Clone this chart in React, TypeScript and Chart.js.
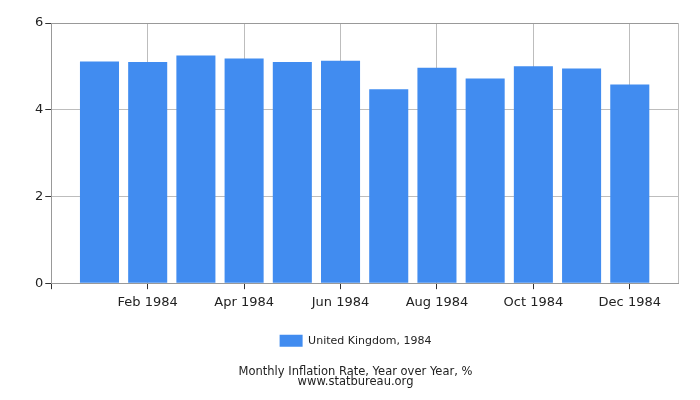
import { useEffect, useRef } from "react";
import { Chart, registerables } from "chart.js";

Chart.register(...registerables);

const months = [
  "Jan 1984", "Feb 1984", "Mar 1984", "Apr 1984", "May 1984", "Jun 1984",
  "Jul 1984", "Aug 1984", "Sep 1984", "Oct 1984", "Nov 1984", "Dec 1984",
];
const ukValues = [5.11, 5.1, 5.25, 5.18, 5.1, 5.13, 4.47, 4.97, 4.72, 5.0, 4.95, 4.58];
const yTicks = [0, 2, 4, 6];
const seriesLabel = "United Kingdom, 1984";
const titleLines = ["Monthly Inflation Rate, Year over Year, %", "www.statbureau.org"];

export default function App() {
  const canvasRef = useRef<HTMLCanvasElement | null>(null);
  const chartRef = useRef<Chart | null>(null);

  useEffect(() => {
    if (!canvasRef.current) {
      return;
    }
    document.body.style.margin = "0";

    if (chartRef.current) {
      chartRef.current.destroy();
    }

    // pad one empty slot each side, like the original's axis
    const labels = ["", ...months, ""];
    const data = [null, ...ukValues, null];
    const last = labels.length - 1;
    const font = "'DejaVu Sans', Verdana, sans-serif";

    chartRef.current = new Chart(canvasRef.current, {
      type: "bar",
      data: {
        labels,
        datasets: [
          {
            label: seriesLabel,
            data,
            backgroundColor: "#418cf0",
            borderWidth: 0,
            categoryPercentage: 1,
            barPercentage: 0.81,
          },
        ],
      },
      options: {
        animation: false,
        responsive: true,
        maintainAspectRatio: false,
        layout: { padding: { top: 23, right: 22, left: 33, bottom: 4 } },
        plugins: {
          legend: {
            position: "bottom",
            labels: {
              boxWidth: 23,
              boxHeight: 12,
              color: "#222",
              font: { family: font, size: 11 },
              padding: 20,
            },
          },
          title: {
            display: true,
            position: "bottom",
            text: titleLines,
            color: "#222",
            font: { family: font, size: 11.5, weight: "normal", lineHeight: 0.88 },
            padding: { top: 10, bottom: 9 },
          },
          tooltip: { enabled: false },
        },
        scales: {
          x: {
            offset: false,
            afterFit: (axis) => {
              axis.height -= 2;
            },
            grid: {
              offset: false,
              color: "#bdbdbd",
              tickColor: (ctx) =>
                ctx.tick && ctx.tick.value === last ? "rgba(0,0,0,0)" : "#333",
              tickLength: 6,
            },
            border: { color: "#999" },
            ticks: {
              autoSkip: false,
              maxRotation: 0,
              color: "#222",
              font: { family: font, size: 13 },
              padding: 6,
              callback: (_v, i) => {
                if (i === 0 || i === last) {
                  return "";
                }
                if (i % 2 === 0) {
                  return labels[i];
                }
                return null;
              },
            },
          },
          y: {
            min: 0,
            max: 6,
            afterBuildTicks: (axis) => {
              axis.ticks = yTicks.map((v) => ({ value: v }));
            },
            grid: {
              color: (ctx) => (ctx.tick && ctx.tick.value === 6 ? "#999" : "#bdbdbd"),
              tickColor: "#333",
              tickLength: 6,
            },
            border: { color: "#999" },
            ticks: {
              color: "#222",
              font: { family: font, size: 13 },
              padding: 2,
            },
          },
        },
      },
    });

    return () => {
      chartRef.current?.destroy();
      chartRef.current = null;
    };
  }, []);

  return (
    <div style={{ position: "fixed", left: 0, top: 0, width: 700, height: 400 }}>
      <canvas ref={canvasRef} />
    </div>
  );
}
